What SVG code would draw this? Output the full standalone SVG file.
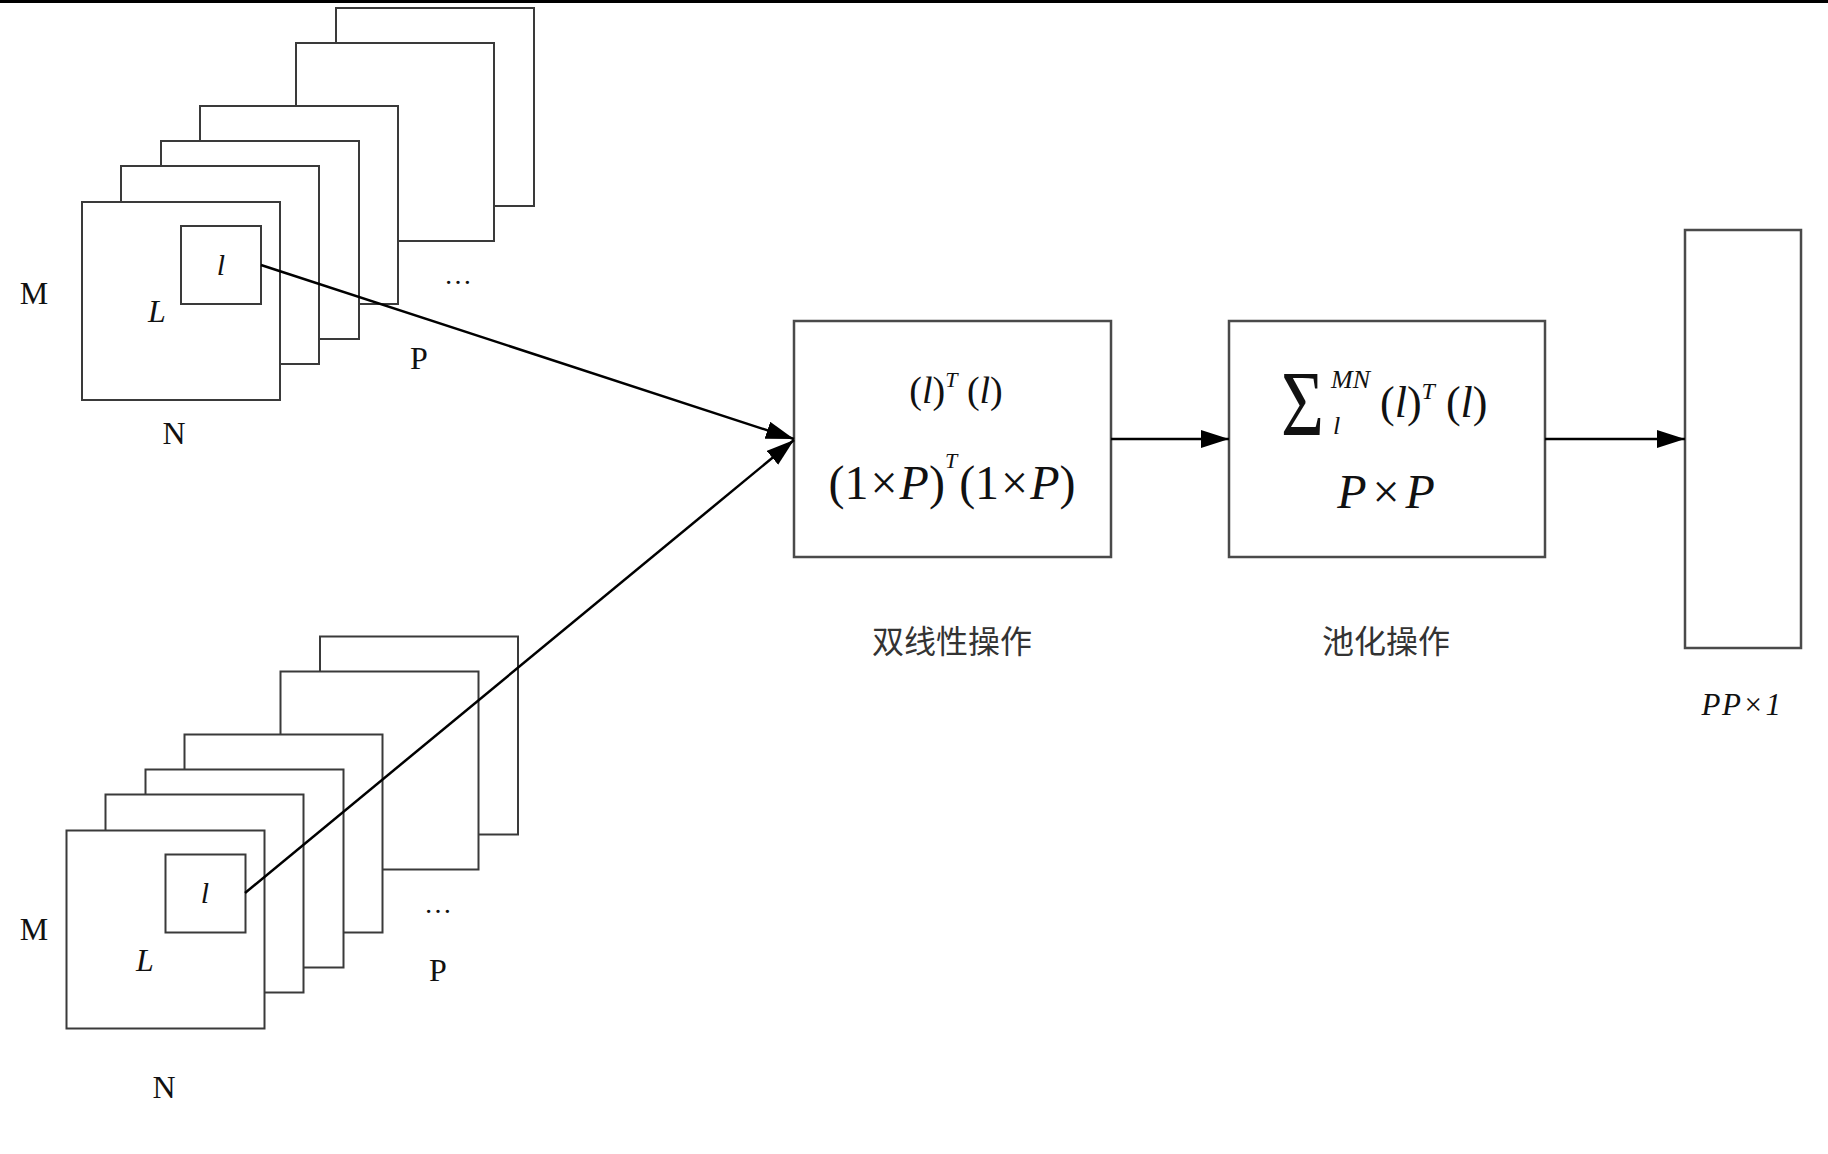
<svg xmlns="http://www.w3.org/2000/svg" width="1828" height="1154" viewBox="0 0 1828 1154">
  <defs>
    <marker id="arrow" markerUnits="userSpaceOnUse" markerWidth="30" markerHeight="20" refX="28" refY="9" orient="auto">
      <path d="M0,0 L28,9 L0,18 Z" fill="#000"/>
    </marker>
    <style>
      .sheet { fill: #fff; stroke: #3a3a3a; stroke-width: 2; }
      .box { fill: #fff; stroke: #4a4a4a; stroke-width: 2.5; }
      .conn { fill: none; stroke: #000; stroke-width: 2.5; }
      .t { font-family: "Liberation Serif", "Times New Roman", serif; fill: #111; }
      .i { font-style: italic; }
      .lbl { font-size: 32px; }
      .cjk { font-family: "Noto Sans CJK SC", "Noto Sans", sans-serif; fill: #333; font-size: 32px; }
    </style>
  </defs>
  <rect width="1828" height="1154" fill="#fff"/>
  <rect x="0" y="0" width="1828" height="3" fill="#000"/>

  <g id="stack-top">
    <rect class="sheet" x="336" y="8" width="198" height="198"/>
    <rect class="sheet" x="296" y="43" width="198" height="198"/>
    <rect class="sheet" x="200" y="106" width="198" height="198"/>
    <rect class="sheet" x="161" y="141" width="198" height="198"/>
    <rect class="sheet" x="121" y="166" width="198" height="198"/>
    <rect class="sheet" x="82" y="202" width="198" height="198"/>
    <rect class="sheet" x="181" y="226" width="80" height="78"/>
    <text class="t lbl" x="34" y="304" text-anchor="middle">M</text>
    <text class="t i lbl" x="157" y="322" text-anchor="middle">L</text>
    <text class="t i" x="221" y="275" font-size="30" text-anchor="middle">l</text>
    <text class="t" x="458" y="284" font-size="28" text-anchor="middle">…</text>
    <text class="t lbl" x="419" y="369" text-anchor="middle">P</text>
    <text class="t lbl" x="174" y="444" text-anchor="middle">N</text>
  </g>

  <g id="stack-bottom">
    <rect class="sheet" x="320" y="636.5" width="198" height="198"/>
    <rect class="sheet" x="280.5" y="671.5" width="198" height="198"/>
    <rect class="sheet" x="184.5" y="734.5" width="198" height="198"/>
    <rect class="sheet" x="145.5" y="769.5" width="198" height="198"/>
    <rect class="sheet" x="105.5" y="794.5" width="198" height="198"/>
    <rect class="sheet" x="66.5" y="830.5" width="198" height="198"/>
    <rect class="sheet" x="165.5" y="854.5" width="80" height="78"/>
    <text class="t lbl" x="34" y="940" text-anchor="middle">M</text>
    <text class="t i lbl" x="145" y="971" text-anchor="middle">L</text>
    <text class="t i" x="205" y="903" font-size="30" text-anchor="middle">l</text>
    <text class="t" x="438" y="913" font-size="28" text-anchor="middle">…</text>
    <text class="t lbl" x="438" y="981" text-anchor="middle">P</text>
    <text class="t lbl" x="164" y="1098" text-anchor="middle">N</text>
  </g>

  <g id="bilinear">
    <rect class="box" x="794" y="321" width="317" height="236"/>
    <text class="t" x="956" y="403" font-size="38" text-anchor="middle">(<tspan class="i">l</tspan>)<tspan class="i" dy="-16" font-size="22">T</tspan><tspan dy="16"> (</tspan><tspan class="i">l</tspan>)</text>
    <text class="t" x="952" y="499" font-size="48" text-anchor="middle">(1<tspan dx="2">×</tspan><tspan class="i" dx="2">P</tspan>)<tspan class="i" dy="-31" font-size="22">T</tspan><tspan dy="31" dx="2">(1</tspan><tspan dx="2">×</tspan><tspan class="i" dx="2">P</tspan>)</text>
    <text class="cjk" x="952" y="653" text-anchor="middle">双线性操作</text>
  </g>

  <g id="pooling">
    <rect class="box" x="1229" y="321" width="316" height="236"/>
    <text class="t" transform="translate(1281,435) scale(0.82,1.04)" font-size="90">Σ</text>
    <text class="t i" x="1331" y="388" font-size="26">MN</text>
    <text class="t i" x="1333" y="434" font-size="26">l</text>
    <text class="t" x="1380" y="417" font-size="44">(<tspan class="i">l</tspan>)<tspan class="i" dy="-18" font-size="24">T</tspan><tspan dy="18"> (</tspan><tspan class="i">l</tspan>)</text>
    <text class="t" x="1386" y="508" font-size="48" text-anchor="middle"><tspan class="i">P</tspan><tspan dx="6">×</tspan><tspan class="i" dx="6">P</tspan></text>
    <text class="cjk" x="1386" y="653" text-anchor="middle">池化操作</text>
  </g>

  <g id="output">
    <rect class="box" x="1685" y="230" width="116" height="418"/>
    <text class="t i" x="1742" y="715" font-size="31" letter-spacing="1.5" text-anchor="middle">PP<tspan font-style="normal" dx="2">×</tspan><tspan dx="2">1</tspan></text>
  </g>

  <g id="connectors">
    <line class="conn" x1="261" y1="265" x2="794" y2="439" marker-end="url(#arrow)"/>
    <line class="conn" x1="245" y1="893" x2="794" y2="440" marker-end="url(#arrow)"/>
    <line class="conn" x1="1111" y1="439" x2="1229" y2="439" marker-end="url(#arrow)"/>
    <line class="conn" x1="1545" y1="439" x2="1685" y2="439" marker-end="url(#arrow)"/>
  </g>
</svg>
